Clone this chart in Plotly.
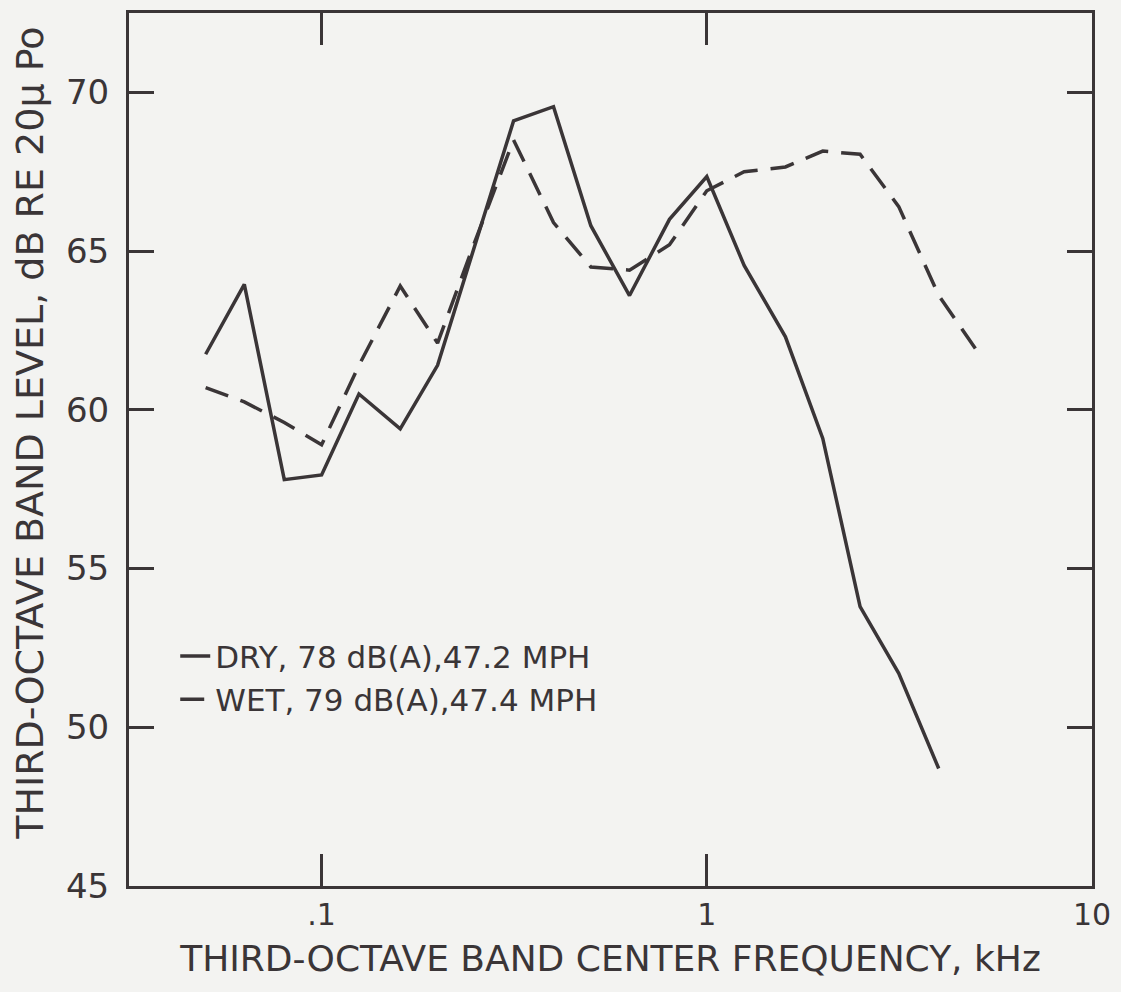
import plotly.graph_objects as go

# Third-octave band centre frequencies (kHz)
freq_dry = [0.05, 0.063, 0.08, 0.1, 0.125, 0.16, 0.2, 0.25, 0.315, 0.4, 0.5,
            0.63, 0.8, 1.0, 1.25, 1.6, 2.0, 2.5, 3.15, 4.0]
level_dry = [61.75, 63.95, 57.8, 57.95, 60.5, 59.4, 61.4, 65.2, 69.1, 69.55, 65.8,
             63.6, 66.0, 67.35, 64.55, 62.3, 59.1, 53.8, 51.7, 48.7]

freq_wet = [0.05, 0.063, 0.08, 0.1, 0.125, 0.16, 0.2, 0.25, 0.315, 0.4, 0.5,
            0.63, 0.8, 1.0, 1.25, 1.6, 2.0, 2.5, 3.15, 4.0, 5.0]
level_wet = [60.7, 60.25, 59.6, 58.9, 61.4, 63.9, 62.1, 65.3, 68.5, 65.9, 64.5,
             64.4, 65.2, 66.9, 67.5, 67.65, 68.15, 68.05, 66.4, 63.6, 61.9]

x_tickvals = [0.1, 1, 10]
x_ticktext = [".1", "1", "10"]
y_tickvals = [45, 50, 55, 60, 65, 70]

name_dry = "DRY, 78 dB(A),47.2 MPH"
name_wet = "WET, 79 dB(A),47.4 MPH"
x_title = "THIRD-OCTAVE BAND CENTER FREQUENCY, kHz"
y_title = "THIRD-OCTAVE BAND LEVEL, dB RE 20\u03bc Po"

ink = "#3a3537"
paper = "#f3f3f1"
font_family = "DejaVu Sans"

fig = go.Figure()
fig.add_trace(go.Scatter(x=freq_dry, y=level_dry, mode="lines", name=name_dry,
                         line=dict(color=ink, width=3.5)))
fig.add_trace(go.Scatter(x=freq_wet, y=level_wet, mode="lines", name=name_wet,
                         line=dict(color=ink, width=3.5, dash="24px,13px")))

fig.update_layout(
    width=1121, height=992,
    margin=dict(l=129, r=29, t=10, b=106),
    paper_bgcolor=paper, plot_bgcolor=paper,
    font=dict(family=font_family, color=ink),
    showlegend=True,
    legend=dict(x=0.048, y=0.294, xanchor="left", yanchor="top",
                bgcolor="rgba(0,0,0,0)", font=dict(size=31, color=ink),
                tracegroupgap=0, itemwidth=30),
    annotations=[dict(text=y_title, xref="paper", yref="paper",
                      x=-0.1028, y=0.518, xanchor="center", yanchor="middle",
                      textangle=-90, showarrow=False,
                      font=dict(size=38, color=ink, family=font_family))],
)
fig.update_xaxes(
    type="log", range=[-1.5, 1.0],
    tickvals=x_tickvals, ticktext=x_ticktext,
    ticks="inside", ticklen=32, tickwidth=2.5, tickcolor=ink,
    showline=True, linewidth=3, linecolor=ink, mirror="ticks",
    showgrid=False, zeroline=False,
    tickfont=dict(size=30, color=ink, family=font_family),
    title=dict(text=x_title,
               font=dict(size=36, color=ink, family=font_family), standoff=15),
)
fig.update_yaxes(
    range=[45, 72.5], tickvals=y_tickvals,
    ticks="inside", ticklen=25, tickwidth=2.5, tickcolor=ink,
    showline=True, linewidth=3, linecolor=ink, mirror="ticks",
    showgrid=False, zeroline=False, ticklabelstandoff=10,
    tickfont=dict(size=34, color=ink, family=font_family),
)

fig.write_html("out.html", config={"displayModeBar": False},
               post_script="document.body.style.margin='0';document.body.style.overflow='hidden';")
